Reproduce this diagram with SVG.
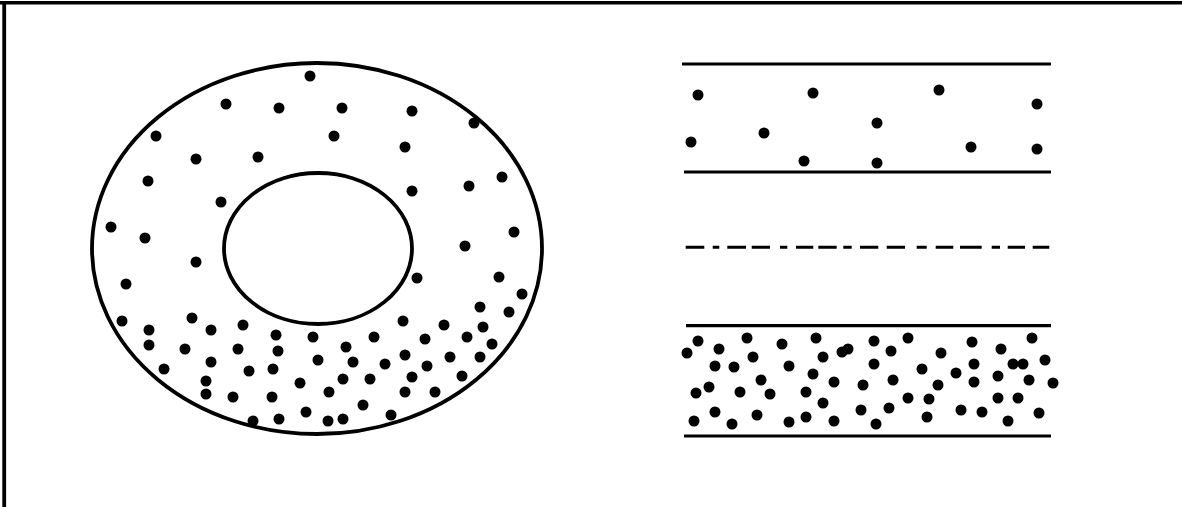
<svg xmlns="http://www.w3.org/2000/svg" width="1182" height="507" viewBox="0 0 1182 507">
<style>
.ln{stroke:#000;fill:none}
.d{fill:#000}
</style>
<rect width="1182" height="507" fill="#fff"/>
<g id="frame">
<line class="ln" x1="0" y1="2.7" x2="1182" y2="2.7" stroke-width="3.6"/>
<line class="ln" x1="4.2" y1="1" x2="4.2" y2="507" stroke-width="3.8"/>
</g>
<g id="donut">
<ellipse class="ln" cx="317" cy="248.5" rx="225" ry="185.5" stroke-width="3.8"/>
<ellipse class="ln" cx="318" cy="248.5" rx="94" ry="75.5" stroke-width="3.8"/>
<g class="d">
<circle cx="310" cy="76" r="5.5"/><circle cx="226" cy="104" r="5.5"/><circle cx="279" cy="108" r="5.5"/>
<circle cx="156" cy="136" r="5.5"/><circle cx="196" cy="159" r="5.5"/><circle cx="258" cy="157" r="5.5"/>
<circle cx="148" cy="181" r="5.5"/><circle cx="221" cy="202" r="5.5"/><circle cx="111" cy="227" r="5.5"/>
<circle cx="145" cy="238" r="5.5"/><circle cx="196" cy="262" r="5.5"/>
<circle cx="342" cy="108" r="5.5"/><circle cx="412" cy="111" r="5.5"/><circle cx="474" cy="123" r="5.5"/>
<circle cx="334" cy="136" r="5.5"/><circle cx="405" cy="147" r="5.5"/><circle cx="412" cy="191" r="5.5"/>
<circle cx="502" cy="177" r="5.5"/><circle cx="469" cy="186" r="5.5"/><circle cx="514" cy="232" r="5.5"/>
<circle cx="465" cy="246" r="5.5"/>
<circle cx="126" cy="284" r="5.5"/><circle cx="122" cy="321" r="5.5"/><circle cx="192" cy="318" r="5.5"/>
<circle cx="149" cy="330" r="5.5"/><circle cx="211" cy="330" r="5.5"/><circle cx="243" cy="325" r="5.5"/>
<circle cx="276" cy="335" r="5.5"/><circle cx="313" cy="337" r="5.5"/><circle cx="149" cy="345" r="5.5"/>
<circle cx="185" cy="349" r="5.5"/><circle cx="238" cy="349" r="5.5"/><circle cx="278" cy="351" r="5.5"/>
<circle cx="211" cy="362" r="5.5"/><circle cx="318" cy="360" r="5.5"/><circle cx="164" cy="369" r="5.5"/>
<circle cx="249" cy="371" r="5.5"/><circle cx="273" cy="369" r="5.5"/><circle cx="206" cy="381" r="5.5"/>
<circle cx="206" cy="394" r="5.5"/><circle cx="300" cy="383" r="5.5"/><circle cx="233" cy="397" r="5.5"/>
<circle cx="272" cy="397" r="5.5"/><circle cx="329" cy="392" r="5.5"/><circle cx="253" cy="421" r="5.5"/>
<circle cx="279" cy="419" r="5.5"/><circle cx="306" cy="412" r="5.5"/><circle cx="328" cy="421" r="5.5"/>
<circle cx="417" cy="278" r="5.5"/><circle cx="499" cy="277" r="5.5"/><circle cx="522" cy="294" r="5.5"/>
<circle cx="480" cy="307" r="5.5"/><circle cx="509" cy="312" r="5.5"/><circle cx="403" cy="321" r="5.5"/>
<circle cx="444" cy="325" r="5.5"/><circle cx="483" cy="327" r="5.5"/><circle cx="374" cy="337" r="5.5"/>
<circle cx="425" cy="339" r="5.5"/><circle cx="467" cy="337" r="5.5"/><circle cx="346" cy="347" r="5.5"/>
<circle cx="492" cy="344" r="5.5"/><circle cx="353" cy="362" r="5.5"/><circle cx="405" cy="355" r="5.5"/>
<circle cx="450" cy="357" r="5.5"/><circle cx="480" cy="357" r="5.5"/><circle cx="385" cy="364" r="5.5"/>
<circle cx="427" cy="366" r="5.5"/><circle cx="343" cy="379" r="5.5"/><circle cx="370" cy="379" r="5.5"/>
<circle cx="412" cy="377" r="5.5"/><circle cx="462" cy="376" r="5.5"/><circle cx="405" cy="392" r="5.5"/>
<circle cx="435" cy="392" r="5.5"/><circle cx="363" cy="405" r="5.5"/><circle cx="343" cy="419" r="5.5"/>
<circle cx="391" cy="415" r="5.5"/>
</g>
</g>
<g id="band-top">
<line class="ln" x1="682" y1="64" x2="1051" y2="64" stroke-width="3.2"/>
<line class="ln" x1="684" y1="172" x2="1051" y2="172" stroke-width="3.2"/>
<g class="d">
<circle cx="698" cy="95" r="5.5"/><circle cx="813" cy="93" r="5.5"/><circle cx="939" cy="90" r="5.5"/>
<circle cx="1037" cy="104" r="5.5"/><circle cx="877" cy="123" r="5.5"/><circle cx="764" cy="133" r="5.5"/>
<circle cx="691" cy="142" r="5.5"/><circle cx="971" cy="147" r="5.5"/><circle cx="1037" cy="149" r="5.5"/>
<circle cx="804" cy="161" r="5.5"/><circle cx="877" cy="163" r="5.5"/>
</g>
</g>
<g id="centerline">
<path class="ln" stroke-width="3" d="M685.7 247.3H704.3M712.7 247.3H719.3M727.3 247.3H746M751.7 247.3H770M780 247.3H787.3M796 247.3H813.3M818.3 247.3H836.7M843.3 247.3H851.7M860 247.3H878.3M886.7 247.3H905M916.7 247.3H926.7M935.7 247.3H953.3M960 247.3H981.7M991.7 247.3H1000M1007.7 247.3H1025M1032.7 247.3H1049.3"/>
</g>
<g id="band-bottom">
<line class="ln" x1="686" y1="325.7" x2="1051" y2="325.7" stroke-width="3.2"/>
<line class="ln" x1="684" y1="436" x2="1051" y2="436" stroke-width="3.2"/>
<g class="d">
<circle cx="698" cy="341" r="5.5"/><circle cx="747" cy="338" r="5.5"/><circle cx="782" cy="344" r="5.5"/>
<circle cx="816" cy="338" r="5.5"/><circle cx="874" cy="341" r="5.5"/><circle cx="908" cy="338" r="5.5"/>
<circle cx="972" cy="342" r="5.5"/><circle cx="1032" cy="338" r="5.5"/><circle cx="687" cy="353" r="5.5"/>
<circle cx="719" cy="349" r="5.5"/><circle cx="753" cy="357" r="5.5"/><circle cx="823" cy="357" r="5.5"/>
<circle cx="842" cy="352" r="5.5"/><circle cx="848" cy="349" r="5.5"/><circle cx="891" cy="351" r="5.5"/>
<circle cx="941" cy="353" r="5.5"/><circle cx="1001" cy="349" r="5.5"/><circle cx="715" cy="366" r="5.5"/>
<circle cx="734" cy="367" r="5.5"/><circle cx="789" cy="366" r="5.5"/><circle cx="874" cy="364" r="5.5"/>
<circle cx="922" cy="369" r="5.5"/><circle cx="974" cy="364" r="5.5"/><circle cx="1013" cy="364" r="5.5"/>
<circle cx="1023" cy="364" r="5.5"/><circle cx="1045" cy="360" r="5.5"/><circle cx="813" cy="374" r="5.5"/>
<circle cx="761" cy="380" r="5.5"/><circle cx="834" cy="382" r="5.5"/><circle cx="893" cy="380" r="5.5"/>
<circle cx="956" cy="373" r="5.5"/><circle cx="974" cy="382" r="5.5"/><circle cx="998" cy="376" r="5.5"/>
<circle cx="1029" cy="380" r="5.5"/><circle cx="1053" cy="383" r="5.5"/><circle cx="696" cy="393" r="5.5"/>
<circle cx="709" cy="387" r="5.5"/><circle cx="740" cy="392" r="5.5"/><circle cx="770" cy="394" r="5.5"/>
<circle cx="806" cy="392" r="5.5"/><circle cx="863" cy="385" r="5.5"/><circle cx="938" cy="385" r="5.5"/>
<circle cx="823" cy="403" r="5.5"/><circle cx="908" cy="398" r="5.5"/><circle cx="929" cy="399" r="5.5"/>
<circle cx="998" cy="398" r="5.5"/><circle cx="1018" cy="398" r="5.5"/><circle cx="715" cy="412" r="5.5"/>
<circle cx="757" cy="415" r="5.5"/><circle cx="806" cy="417" r="5.5"/><circle cx="861" cy="410" r="5.5"/>
<circle cx="889" cy="408" r="5.5"/><circle cx="961" cy="410" r="5.5"/><circle cx="982" cy="412" r="5.5"/>
<circle cx="1039" cy="413" r="5.5"/><circle cx="694" cy="421" r="5.5"/><circle cx="732" cy="424" r="5.5"/>
<circle cx="789" cy="422" r="5.5"/><circle cx="834" cy="421" r="5.5"/><circle cx="876" cy="424" r="5.5"/>
<circle cx="927" cy="417" r="5.5"/><circle cx="1008" cy="421" r="5.5"/>
</g>
</g>
</svg>
